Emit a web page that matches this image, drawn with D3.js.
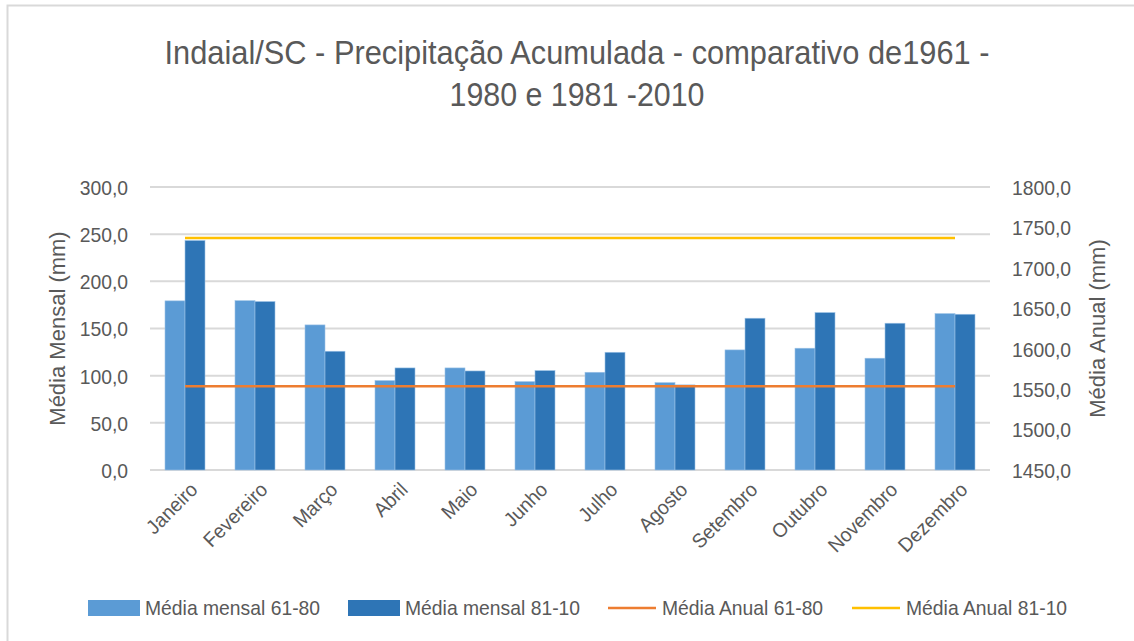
<!DOCTYPE html>
<html>
<head>
<meta charset="utf-8">
<script src="https://cdn.jsdelivr.net/npm/d3@7"></script>
<style>
  body { margin: 0; background: #fff; }
  text { font-family: "Liberation Sans", Arial, sans-serif; fill: #595959; }
</style>
</head>
<body>
<script>
// dados
const meses = ["Janeiro", "Fevereiro", "Março", "Abril", "Maio", "Junho",
  "Julho", "Agosto", "Setembro", "Outubro", "Novembro", "Dezembro"];
const mensal6180 = [179.3, 179.5, 153.8, 94.8, 108.2, 93.7, 103.6, 92.6, 127.3, 129.1, 118.5, 165.8];
const mensal8110 = [243.3, 178.6, 125.9, 108.2, 105.0, 105.4, 124.8, 90.2, 160.9, 166.9, 155.6, 165.1];
const anual6180 = 1553.5;
const anual8110 = 1737.0;
const ticksEsq = [0, 50, 100, 150, 200, 250, 300];
const ticksDir = [1450, 1500, 1550, 1600, 1650, 1700, 1750, 1800];
const series = ["Média mensal 61-80", "Média mensal 81-10", "Média Anual 61-80", "Média Anual 81-10"];
const cores = ["#5B9BD5", "#2E75B6", "#ED7D31", "#FFC000"];

const w = 1134, h = 641;
const mLeft = 150, mRight = 990, mTop = 187, mBottom = 470;

// a imagem original está um pouco comprimida na horizontal
function aperta(sel, k) {
  sel.each(function () {
    const L = this.getComputedTextLength();
    d3.select(this).attr("textLength", L * k).attr("lengthAdjust", "spacingAndGlyphs");
  });
}

const svg = d3.select("body").append("svg")
  .attr("width", w)
  .attr("height", h);

// moldura do gráfico
svg.append("rect")
  .attr("x", 7.5).attr("y", 5.5)
  .attr("width", w + 10).attr("height", h + 10)
  .attr("fill", "#fff")
  .attr("stroke", "#D9D9D9")
  .attr("stroke-width", 2);

const fmt = d => d3.format(".1f")(d).replace(".", ",");

const x = d3.scaleBand()
  .domain(meses)
  .range([mLeft, mRight])
  .paddingInner(3 / 7)
  .paddingOuter(3 / 14);

const xSub = d3.scaleBand()
  .domain([0, 1])
  .range([0, x.bandwidth()]);

const yEsq = d3.scaleLinear().domain([0, 300]).range([mBottom, mTop]);
const yDir = d3.scaleLinear().domain([1450, 1800]).range([mBottom, mTop]);

// grade
svg.append("g")
  .selectAll("line")
  .data(ticksEsq)
  .enter()
  .append("line")
  .attr("x1", mLeft).attr("x2", mRight)
  .attr("y1", d => yEsq(d)).attr("y2", d => yEsq(d))
  .attr("stroke", "#D9D9D9")
  .attr("stroke-width", 2);

// eixo esquerdo
const eixoEsq = svg.append("g")
  .attr("transform", "translate(" + (mLeft - 22) + ",0)")
  .call(d3.axisLeft(yEsq).tickValues(ticksEsq).tickFormat(fmt).tickSize(0).tickPadding(0));
eixoEsq.select(".domain").remove();
eixoEsq.selectAll("text").attr("font-family", null).style("font-size", "21px").attr("dy", "0.35em").call(aperta, 0.92);

// eixo direito
const eixoDir = svg.append("g")
  .attr("transform", "translate(" + (mRight + 22) + ",0)")
  .call(d3.axisRight(yDir).tickValues(ticksDir).tickFormat(fmt).tickSize(0).tickPadding(0));
eixoDir.select(".domain").remove();
eixoDir.selectAll("text").attr("font-family", null).style("font-size", "21px").attr("dy", "0.35em").call(aperta, 0.92);

// barras
const dados = [mensal6180, mensal8110];
dados.forEach((serie, s) => {
  svg.append("g")
    .selectAll("rect")
    .data(serie)
    .enter()
    .append("rect")
    .attr("x", (d, i) => x(meses[i]) + xSub(s))
    .attr("y", d => yEsq(d))
    .attr("width", xSub.bandwidth())
    .attr("height", d => mBottom - yEsq(d))
    .attr("fill", cores[s])
    .attr("stroke", "#9DC3E6")
    .attr("stroke-width", 0.6);
});

// linhas das médias anuais
[anual6180, anual8110].forEach((v, s) => {
  const linha = d3.line()
    .x(d => x(d) + x.bandwidth() / 2)
    .y(() => yDir(v));
  svg.append("path")
    .datum(meses)
    .attr("d", linha)
    .attr("fill", "none")
    .attr("stroke", cores[s + 2])
    .attr("stroke-width", 2.5);
});

// rótulos dos meses
svg.append("g")
  .selectAll("text")
  .data(meses)
  .enter()
  .append("text")
  .attr("transform", d => "translate(" + (x(d) + x.bandwidth() / 2 + 4) + "," + (mBottom + 11) + ") rotate(-45)")
  .attr("text-anchor", "end")
  .attr("dy", "0.7em")
  .style("font-size", "20px")
  .text(d => d)
  .call(aperta, 0.96);

// títulos dos eixos
svg.append("text")
  .attr("transform", "translate(65," + ((mTop + mBottom) / 2) + ") rotate(-90)")
  .attr("text-anchor", "middle")
  .style("font-size", "22px")
  .text("Média Mensal (mm)");

svg.append("text")
  .attr("transform", "translate(1105," + ((mTop + mBottom) / 2) + ") rotate(-90)")
  .attr("text-anchor", "middle")
  .style("font-size", "22px")
  .text("Média Anual (mm)");

// título
const titulo = svg.append("text")
  .attr("x", 577)
  .attr("y", 64)
  .attr("text-anchor", "middle")
  .style("font-size", "34px");
titulo.append("tspan").attr("x", 577).attr("textLength", 825).attr("lengthAdjust", "spacingAndGlyphs")
  .text("Indaial/SC - Precipitação Acumulada - comparativo de1961 -");
titulo.append("tspan").attr("x", 577).attr("dy", 42).attr("textLength", 255).attr("lengthAdjust", "spacingAndGlyphs")
  .text("1980 e 1981 -2010");

// legenda
const legX = [88, 348, 608, 852];
const leg = svg.append("g");
series.forEach((nome, i) => {
  const g = leg.append("g").attr("transform", "translate(" + legX[i] + ",608)");
  if (i < 2) {
    g.append("rect").attr("x", 0).attr("y", -8).attr("width", 52).attr("height", 16).attr("fill", cores[i]);
  } else {
    g.append("line").attr("x1", 0).attr("x2", 48).attr("y1", 0).attr("y2", 0)
      .attr("stroke", cores[i]).attr("stroke-width", 2.5);
  }
  g.append("text")
    .attr("x", i < 2 ? 57 : 54)
    .attr("dy", "0.35em")
    .style("font-size", "21px")
    .text(nome)
    .call(aperta, 0.92);
});
</script>
</body>
</html>
